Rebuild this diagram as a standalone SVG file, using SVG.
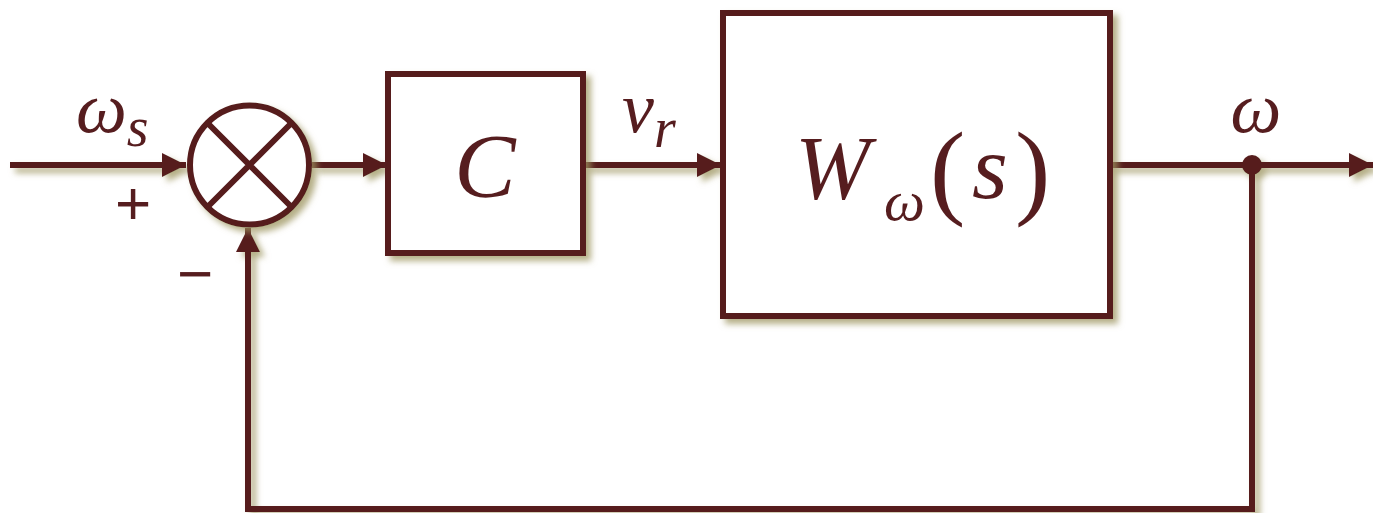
<svg xmlns="http://www.w3.org/2000/svg" width="1373" height="513" viewBox="0 0 1373 513">
<defs>
<filter id="sh" x="-10%" y="-10%" width="130%" height="130%">
<feDropShadow dx="5" dy="5" stdDeviation="3" flood-color="#9c9460" flood-opacity="0.75"/>
</filter>
<marker id="ah" markerUnits="userSpaceOnUse" markerWidth="26" markerHeight="26" refX="24" refY="12" orient="auto">
<path d="M0,0 L24,12 L0,24 Z" fill="#561d1f"/>
</marker>
</defs>
<style>
.ln{stroke:#561d1f;stroke-width:6;fill:none}
.bx{stroke:#561d1f;stroke-width:6;fill:#fff}
.tx{font-family:"Liberation Serif",serif;font-style:italic;fill:#561d1f}
.up{font-family:"Liberation Serif",serif;fill:#561d1f}
.sg{font-family:"Liberation Sans",sans-serif;fill:#561d1f}
</style>
<rect width="1373" height="513" fill="#fff"/>
<g id="connectors" filter="url(#sh)">
<path class="ln" d="M10,165 H186" marker-end="url(#ah)"/>
<path class="ln" d="M312,165 H387" marker-end="url(#ah)"/>
<path class="ln" d="M584,165 H721" marker-end="url(#ah)"/>
<path class="ln" d="M1110,165 H1373" marker-end="url(#ah)"/>
<path class="ln" d="M1252,165 V509 H248 V228" marker-end="url(#ah)"/>
<circle cx="1252" cy="165" r="10" fill="#561d1f"/>
</g>
<g id="sum" filter="url(#sh)">
<circle class="bx" cx="249.5" cy="165" r="59.5"/>
<path class="ln" d="M207.5,123 L291.5,207 M291.5,123 L207.5,207"/>
</g>
<g id="C">
<rect class="bx" x="388" y="74" width="195" height="179" filter="url(#sh)"/>
<text class="tx" x="485" y="197" font-size="92" text-anchor="middle">C</text>
</g>
<g id="W">
<rect class="bx" x="723" y="13" width="387" height="303" filter="url(#sh)"/>
<text class="tx" x="795" y="199" font-size="90">W</text>
<text class="tx" x="884" y="220" font-size="58">ω</text>
<text class="up" x="930" y="205" font-size="106">(</text>
<text class="tx" x="972" y="198" font-size="92">s</text>
<text class="up" x="1015" y="205" font-size="106">)</text>
</g>
<g id="labels">
<text class="tx" x="76" y="132" font-size="72">ω<tspan font-size="56" dy="14">s</tspan></text>
<text class="tx" x="622" y="132" font-size="72">v<tspan font-size="56" dy="15">r</tspan></text>
<text class="tx" x="1256" y="132" font-size="72" text-anchor="middle">ω</text>
<text class="sg" x="133" y="224" font-size="62" text-anchor="middle">+</text>
<text class="sg" x="195" y="295" font-size="62" text-anchor="middle">−</text>
</g>
</svg>
